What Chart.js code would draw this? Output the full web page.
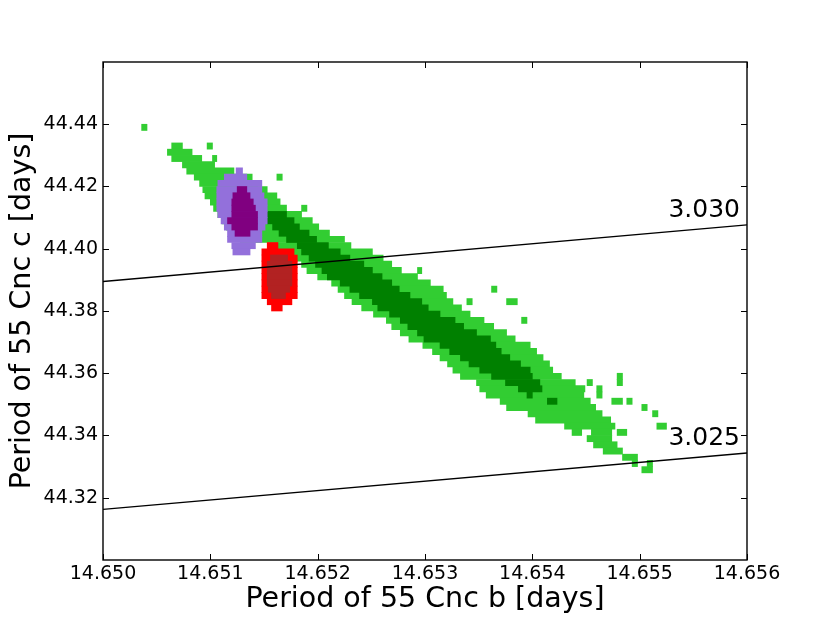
<!DOCTYPE html>
<html>
<head>
<meta charset="utf-8">
<script src="https://cdn.jsdelivr.net/npm/chart.js@4.4.0/dist/chart.umd.min.js"></script>
<style>
  body { margin: 0; background: #fff; }
  #wrap { width: 830px; height: 623px; }
</style>
</head>
<body>
<div id="wrap"><canvas id="chart"></canvas></div>
<script>
const xTicks = [14.650, 14.651, 14.652, 14.653, 14.654, 14.655, 14.656];
const yTicks = [44.32, 44.34, 44.36, 44.38, 44.40, 44.42, 44.44];
const xRange = [14.650, 14.656];
const yRange = [44.30, 44.46];
const xTitle = "Period of 55 Cnc b [days]";
const yTitle = "Period of 55 Cnc c [days]";

// period ratio Pc/Pb lines, end points
const ratioNames = ["3.030", "3.025"];
const ratio3030 = [[14.650, 44.3895], [14.656, 44.40768]];
const ratio3025 = [[14.650, 44.31625], [14.656, 44.3344]];

// cells, one entry per run: [Pc row centre, Pb from, Pb to]
const lightGreen = [
    [44.439, 14.65036, 14.65041],
    [44.433, 14.65064, 14.65074], [44.433, 14.65097, 14.65102],
    [44.431, 14.65060, 14.65083],
    [44.429, 14.65064, 14.65092], [44.429, 14.65102, 14.65106],
    [44.427, 14.65074, 14.65104],
    [44.425, 14.65078, 14.65122],
    [44.423, 14.65085, 14.65139], [44.423, 14.65162, 14.65167],
    [44.421, 14.65090, 14.65144],
    [44.419, 14.65093, 14.65153],
    [44.417, 14.65095, 14.65162],
    [44.415, 14.65100, 14.65165],
    [44.413, 14.65103, 14.65171], [44.413, 14.65185, 14.65190],
    [44.411, 14.65107, 14.65185],
    [44.409, 14.65111, 14.65195],
    [44.407, 14.65115, 14.65201],
    [44.405, 14.65117, 14.65211],
    [44.403, 14.65128, 14.65225],
    [44.401, 14.65156, 14.65231],
    [44.399, 14.65176, 14.65251],
    [44.397, 14.65181, 14.65261],
    [44.395, 14.65185, 14.65269],
    [44.393, 14.65190, 14.65278], [44.393, 14.65293, 14.65297],
    [44.391, 14.65200, 14.65293],
    [44.389, 14.65213, 14.65305],
    [44.387, 14.65219, 14.65317], [44.387, 14.65362, 14.65367],
    [44.385, 14.65225, 14.65320],
    [44.383, 14.65232, 14.65326], [44.383, 14.65339, 14.65344], [44.383, 14.65376, 14.65386],
    [44.381, 14.65241, 14.65334],
    [44.379, 14.65252, 14.65342],
    [44.377, 14.65264, 14.65355], [44.377, 14.65390, 14.65395],
    [44.375, 14.65269, 14.65364],
    [44.373, 14.65277, 14.65376],
    [44.371, 14.65285, 14.65384],
    [44.369, 14.65298, 14.65398],
    [44.367, 14.65307, 14.65404],
    [44.365, 14.65314, 14.65410],
    [44.363, 14.65321, 14.65416],
    [44.361, 14.65326, 14.65419],
    [44.359, 14.65333, 14.65427], [44.359, 14.65479, 14.65484],
    [44.357, 14.65348, 14.65440], [44.357, 14.65451, 14.65456], [44.357, 14.65479, 14.65484],
    [44.355, 14.65351, 14.65449], [44.355, 14.65460, 14.65465],
    [44.353, 14.65357, 14.65448], [44.353, 14.65460, 14.65465],
    [44.351, 14.65370, 14.65454], [44.351, 14.65474, 14.65484], [44.351, 14.65488, 14.65493],
    [44.349, 14.65376, 14.65459], [44.349, 14.65502, 14.65507],
    [44.347, 14.65396, 14.65465], [44.347, 14.65512, 14.65517],
    [44.345, 14.65403, 14.65473],
    [44.343, 14.65430, 14.65477], [44.343, 14.65516, 14.65525],
    [44.341, 14.65437, 14.65446], [44.341, 14.65455, 14.65474], [44.341, 14.65479, 14.65488],
    [44.339, 14.65451, 14.65474],
    [44.337, 14.65457, 14.65479],
    [44.335, 14.65466, 14.65484],
    [44.333, 14.65484, 14.65498],
    [44.331, 14.65493, 14.65498], [44.331, 14.65507, 14.65512],
    [44.329, 14.65502, 14.65512]
];

const darkGreen = [
    [44.411, 14.65153, 14.65171],
    [44.409, 14.65153, 14.65178],
    [44.407, 14.65158, 14.65183],
    [44.405, 14.65164, 14.65192],
    [44.403, 14.65171, 14.65199],
    [44.401, 14.65181, 14.65210],
    [44.399, 14.65185, 14.65221],
    [44.397, 14.65192, 14.65230],
    [44.395, 14.65198, 14.65243],
    [44.393, 14.65204, 14.65251],
    [44.391, 14.65209, 14.65260],
    [44.389, 14.65221, 14.65269],
    [44.387, 14.65230, 14.65276],
    [44.385, 14.65239, 14.65286],
    [44.383, 14.65251, 14.65297],
    [44.381, 14.65256, 14.65303],
    [44.379, 14.65267, 14.65314],
    [44.377, 14.65277, 14.65328],
    [44.375, 14.65284, 14.65336],
    [44.373, 14.65293, 14.65348],
    [44.371, 14.65299, 14.65361],
    [44.369, 14.65314, 14.65366],
    [44.367, 14.65323, 14.65371],
    [44.365, 14.65333, 14.65379],
    [44.363, 14.65341, 14.65389],
    [44.361, 14.65351, 14.65398],
    [44.359, 14.65362, 14.65400],
    [44.357, 14.65375, 14.65407],
    [44.355, 14.65387, 14.65409],
    [44.353, 14.65395, 14.65400],
    [44.351, 14.65414, 14.65423]
];

const lightPurple = [
    [44.425, 14.65124, 14.65130],
    [44.423, 14.65113, 14.65134],
    [44.421, 14.65107, 14.65148],
    [44.419, 14.65106, 14.65148],
    [44.417, 14.65106, 14.65150],
    [44.415, 14.65106, 14.65153],
    [44.413, 14.65106, 14.65153],
    [44.411, 14.65107, 14.65153],
    [44.409, 14.65110, 14.65153],
    [44.407, 14.65113, 14.65151],
    [44.405, 14.65116, 14.65148],
    [44.403, 14.65116, 14.65148],
    [44.401, 14.65120, 14.65142],
    [44.399, 14.65121, 14.65137]
];

const darkPurple = [
    [44.419, 14.65125, 14.65134],
    [44.417, 14.65121, 14.65137],
    [44.415, 14.65120, 14.65140],
    [44.413, 14.65120, 14.65142],
    [44.411, 14.65120, 14.65144],
    [44.409, 14.65116, 14.65144],
    [44.407, 14.65120, 14.65144],
    [44.405, 14.65123, 14.65137]
];

const lightRed = [
    [44.401, 14.65153, 14.65163],
    [44.399, 14.65148, 14.65178],
    [44.397, 14.65148, 14.65181],
    [44.395, 14.65148, 14.65181],
    [44.393, 14.65148, 14.65181],
    [44.391, 14.65148, 14.65181],
    [44.389, 14.65148, 14.65181],
    [44.387, 14.65148, 14.65181],
    [44.385, 14.65148, 14.65181],
    [44.383, 14.65153, 14.65176],
    [44.381, 14.65157, 14.65167]
];

const darkRed = [
    [44.397, 14.65156, 14.65172],
    [44.395, 14.65153, 14.65176],
    [44.393, 14.65153, 14.65176],
    [44.391, 14.65153, 14.65176],
    [44.389, 14.65153, 14.65176],
    [44.387, 14.65154, 14.65174],
    [44.385, 14.65157, 14.65170]
];

const FONT = "'DejaVu Sans', sans-serif";
Chart.defaults.font.family = FONT;
Chart.defaults.color = "#000";

function cells(rows, color, order) {
    return {
        type: "bar",
        indexAxis: "y",
        data: rows.map(r => ({ y: r[0], x: [r[1], r[2]] })),
        backgroundColor: color,
        borderWidth: 0,
        grouped: false,
        barPercentage: 1,
        categoryPercentage: 1,
        order: order
    };
}

function ratioLine(points) {
    return {
        type: "line",
        indexAxis: "x",
        data: points.map(p => ({ x: p[0], y: p[1] })),
        borderColor: "#000",
        borderWidth: 1.4,
        pointRadius: 0,
        fill: false,
        order: 0
    };
}

// spines, inward tick marks and the ratio labels
const frame = {
    id: "frame",
    afterDraw(chart) {
        const { ctx, chartArea: a, scales: { x, y } } = chart;
        ctx.save();
        ctx.strokeStyle = "#000";
        ctx.lineWidth = 1;
        ctx.beginPath();
        xTicks.forEach(v => {
            const px = Math.round(x.getPixelForValue(v)) + 0.5;
            ctx.moveTo(px, a.bottom); ctx.lineTo(px, a.bottom - 6);
            ctx.moveTo(px, a.top); ctx.lineTo(px, a.top + 6);
        });
        yTicks.forEach(v => {
            const py = Math.round(y.getPixelForValue(v)) + 0.5;
            ctx.moveTo(a.left, py); ctx.lineTo(a.left + 6, py);
            ctx.moveTo(a.right, py); ctx.lineTo(a.right - 6, py);
        });
        ctx.stroke();
        ctx.lineWidth = 1.4;
        ctx.strokeRect(a.left, a.top, a.right - a.left, a.bottom - a.top);

        ctx.font = "25px " + FONT;
        ctx.textAlign = "right";
        ctx.textBaseline = "alphabetic";
        ctx.fillStyle = "#000";
        [ratio3030, ratio3025].forEach((line, i) => {
            const end = line[line.length - 1];
            ctx.fillText(ratioNames[i], a.right - 7, y.getPixelForValue(end[1]) - 8);
        });
        ctx.restore();
    }
};

new Chart(document.getElementById("chart"), {
    type: "bar",
    data: {
        datasets: [
            ratioLine(ratio3030),
            ratioLine(ratio3025),
            cells(darkRed, "#b22222", 1),
            cells(lightRed, "#ff0000", 2),
            cells(darkPurple, "#800080", 3),
            cells(lightPurple, "#9370db", 4),
            cells(darkGreen, "#008000", 5),
            cells(lightGreen, "#32cd32", 6)
        ]
    },
    options: {
        indexAxis: "y",
        responsive: true,
        maintainAspectRatio: false,
        animation: false,
        events: [],
        layout: { padding: { top: 62, right: 83, left: 0, bottom: 0 } },
        plugins: {
            legend: { display: false },
            tooltip: { enabled: false }
        },
        scales: {
            x: {
                type: "linear",
                position: "bottom",
                min: xRange[0],
                max: xRange[1],
                offset: false,
                grid: { display: false, drawTicks: false },
                border: { display: false },
                afterBuildTicks: s => { s.ticks = xTicks.map(v => ({ value: v })); },
                afterFit: s => { s.height = 63; },
                ticks: {
                    padding: 3,
                    maxRotation: 0,
                    autoSkip: false,
                    font: { size: 19 },
                    callback: v => v.toFixed(3)
                },
                title: {
                    display: true,
                    text: xTitle,
                    font: { size: 28.5 },
                    padding: { top: 0, bottom: 6 }
                }
            },
            y: {
                type: "linear",
                position: "left",
                min: yRange[0],
                max: yRange[1],
                offset: false,
                grid: { display: false, drawTicks: false },
                border: { display: false },
                afterBuildTicks: s => { s.ticks = yTicks.map(v => ({ value: v })); },
                afterFit: s => { s.width = 103; },
                ticks: {
                    padding: 5,
                    autoSkip: false,
                    font: { size: 19 },
                    callback: v => v.toFixed(2)
                },
                title: {
                    display: true,
                    text: yTitle,
                    font: { size: 28.5 },
                    padding: { top: 5, bottom: 0 }
                }
            }
        }
    },
    plugins: [frame]
});
</script>
</body>
</html>
